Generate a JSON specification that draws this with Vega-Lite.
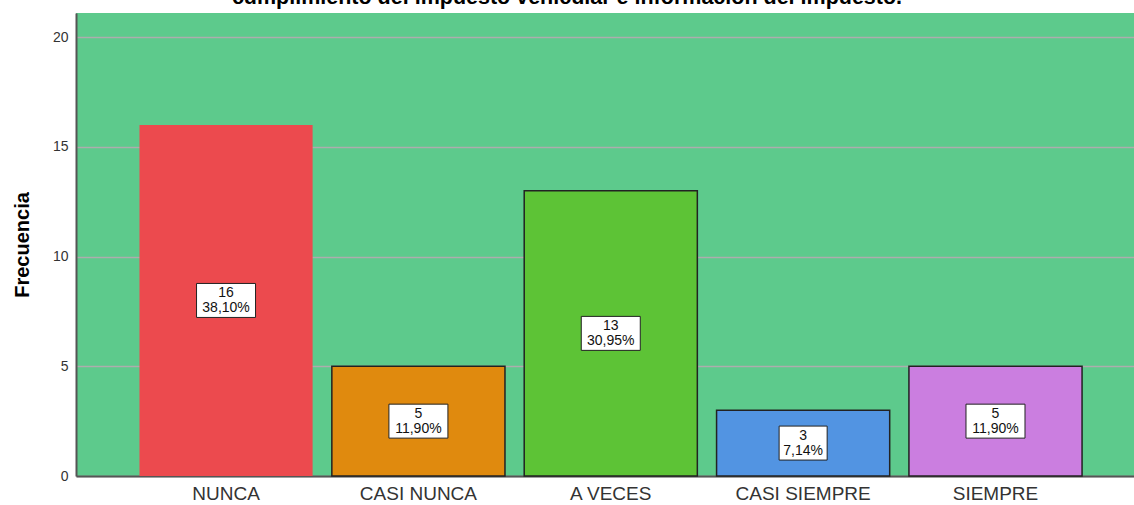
{
  "$schema": "https://vega.github.io/schema/vega-lite/v6.json",
  "width": 1058,
  "height": 463,
  "autosize": {"type": "none"},
  "padding": {"left": 76, "top": 13, "right": 0, "bottom": 29},
  "background": "white",
  "title": {
    "text": "cumplimiento del impuesto vehicular e información del impuesto.",
    "font": "Liberation Sans",
    "fontSize": 21.5,
    "fontWeight": "bold",
    "color": "#000000",
    "anchor": "middle",
    "frame": "group",
    "baseline": "alphabetic",
    "offset": 0,
    "dx": -38,
    "dy": 12
  },
  "data": {
    "values": [
      {"cat": "NUNCA", "count": 16, "pct": "38,10%"},
      {"cat": "CASI NUNCA", "count": 5, "pct": "11,90%"},
      {"cat": "A VECES", "count": 13, "pct": "30,95%"},
      {"cat": "CASI SIEMPRE", "count": 3, "pct": "7,14%"},
      {"cat": "SIEMPRE", "count": 5, "pct": "11,90%"}
    ]
  },
  "transform": [
    {"calculate": "datum.count / 2", "as": "mid"},
    {"calculate": "datum.count + '\\n' + datum.pct", "as": "label"}
  ],
  "encoding": {
    "x": {
      "field": "cat",
      "type": "nominal",
      "sort": null,
      "scale": {"paddingInner": 0.1, "paddingOuter": 0.3, "align": 0.55},
      "axis": {
        "title": null,
        "labelAngle": 0,
        "labelFont": "Liberation Sans",
        "labelFontSize": 19,
        "labelColor": "#333333",
        "labelPadding": 8,
        "ticks": false,
        "domainColor": "#555555",
        "domainWidth": 2,
        "grid": false
      }
    }
  },
  "layer": [
    {
      "mark": {"type": "bar", "strokeWidth": 1.5, "stroke": "#222222"},
      "encoding": {
        "y": {
          "field": "count",
          "type": "quantitative",
          "scale": {"domain": [0, 21.1], "nice": false},
          "axis": {
            "title": "Frecuencia",
            "titleFont": "Liberation Sans",
            "titleFontSize": 20,
            "titleFontWeight": "bold",
            "titleColor": "#000000",
            "titlePadding": 20,
            "values": [0, 5, 10, 15, 20],
            "labelFont": "Liberation Sans",
            "labelFontSize": 14,
            "labelColor": "#333333",
            "labelPadding": 8,
            "ticks": false,
            "domainColor": "#555555",
            "domainWidth": 2,
            "grid": true,
            "gridColor": "#adadad",
            "gridOpacity": 1,
            "gridWidth": 1.3
          }
        },
        "color": {
          "field": "cat",
          "type": "nominal",
          "scale": {
            "domain": ["NUNCA", "CASI NUNCA", "A VECES", "CASI SIEMPRE", "SIEMPRE"],
            "range": ["#ec4a4e", "#e08a0e", "#5dc336", "#5294e2", "#cb7ee0"]
          },
          "legend": null
        },
        "strokeOpacity": {
          "condition": {"test": "datum.cat === 'NUNCA'", "value": 0},
          "value": 1
        }
      }
    },
    {
      "mark": {"type": "point", "filled": true, "fill": "white", "stroke": "#222222", "strokeWidth": 1, "opacity": 1, "size": 3481},
      "encoding": {
        "y": {"field": "mid", "type": "quantitative"},
        "shape": {
          "condition": {"test": "datum.count === 3", "value": "M-0.814,-0.576H0.814V0.576H-0.814Z"},
          "value": "M-1,-0.576H1V0.576H-1Z"
        }
      }
    },
    {
      "mark": {"type": "text", "font": "Liberation Sans", "fontSize": 14, "color": "#111111", "lineBreak": "\n", "lineHeight": 15, "baseline": "middle", "align": "center", "dy": -7.5},
      "encoding": {
        "y": {"field": "mid", "type": "quantitative"},
        "text": {"field": "label"}
      }
    }
  ],
  "config": {
    "view": {"fill": "#5dca8c", "stroke": null}
  }
}
